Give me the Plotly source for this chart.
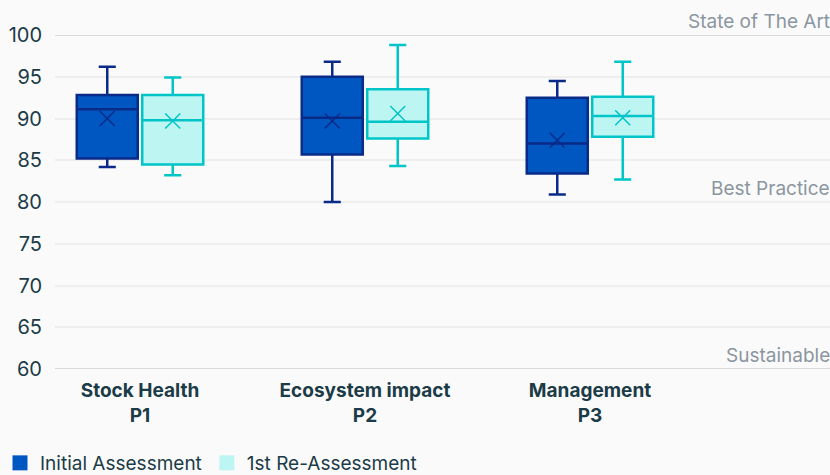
import plotly.graph_objects as go

categories = ["Stock Health<br>P1", "Ecosystem impact<br>P2", "Management<br>P3"]
series_names = ["Initial Assessment", "1st Re-Assessment"]

init_low = [84.2, 80.0, 80.9]
init_q1 = [85.2, 85.7, 83.4]
init_med = [91.1, 90.1, 87.0]
init_q3 = [92.8, 95.0, 92.5]
init_high = [96.2, 96.8, 94.5]
init_mean = [90.0, 89.7, 87.4]

re_low = [83.2, 84.3, 82.7]
re_q1 = [84.5, 87.6, 87.8]
re_med = [89.8, 89.6, 90.3]
re_q3 = [92.8, 93.5, 92.6]
re_high = [94.9, 98.8, 96.8]
re_mean = [89.7, 90.6, 90.1]

thresholds = [100, 80, 60]
threshold_labels = ["State of The Art", "Best Practice", "Sustainable"]
y_ticks = [60, 65, 70, 75, 80, 85, 90, 95, 100]

fills = ["#0057C2", "#BDF5F3"]
lines = ["#0A2A88", "#00C5C8"]
text_col = "#1B3B47"
label_col = "#8A96A0"
FONT = "Inter"

BOXGAP = 0.418
GROUPGAP = 0.068

pos = list(range(len(categories)))
series = [
    (init_low, init_q1, init_med, init_q3, init_high, init_mean),
    (re_low, re_q1, re_med, re_q3, re_high, re_mean),
]

fig = go.Figure()
n = len(series)
for i, (lo, q1, med, q3, hi, mn) in enumerate(series):
    fig.add_trace(go.Box(
        x=pos, lowerfence=lo, q1=q1, median=med, q3=q3, upperfence=hi,
        name=series_names[i], fillcolor=fills[i],
        line=dict(color=lines[i], width=2.5), whiskerwidth=0.28,
        showlegend=False, hoverinfo="skip", boxpoints=False,
    ))
    off = 2 * 0.5 * (-0.5 + (i + 0.5) / n) * (1 - BOXGAP)
    fig.add_trace(go.Scatter(
        x=[p + off for p in pos], y=mn, mode="markers",
        marker=dict(symbol="x-thin", size=15, line=dict(color=lines[i], width=1.5)),
        showlegend=False, hoverinfo="skip",
    ))

for i in range(n):
    fig.add_trace(go.Scatter(
        x=[None], y=[None], mode="markers", name=series_names[i],
        marker=dict(symbol="square", size=15, color=fills[i]),
    ))

for t, lab in zip(thresholds, threshold_labels):
    fig.add_shape(type="line", xref="paper", x0=0, x1=1, yref="y", y0=t, y1=t,
                  line=dict(color="#DADADA", width=2), layer="below")
    fig.add_annotation(xref="paper", x=1, yref="y", y=t, text=lab, showarrow=False,
                       xanchor="right", yanchor="bottom", yshift=0, xshift=2,
                       font=dict(family=FONT, size=19, color=label_col))

fig.update_layout(
    width=830, height=475,
    margin=dict(l=55, r=0, t=35, b=106),
    paper_bgcolor="#FAFAFA", plot_bgcolor="#FAFAFA",
    boxmode="group", boxgap=BOXGAP, boxgroupgap=GROUPGAP,
    font=dict(family=FONT, color=text_col),
    legend=dict(orientation="h", xref="container", yref="container",
                x=-0.008, xanchor="left", y=1 - 463 / 475, yanchor="middle",
                font=dict(family=FONT, size=19, color=text_col),
                itemwidth=30, tracegroupgap=0, bgcolor="rgba(0,0,0,0)"),
    xaxis=dict(
        range=[-85 / 225, 690 / 225], tickvals=pos, automargin=False,
        ticktext=["<b>" + c + "</b>" for c in categories],
        tickfont=dict(family=FONT, size=19, color=text_col), ticklabelstandoff=8,
        showgrid=False, zeroline=False, showline=False, ticks="",
    ),
    yaxis=dict(
        range=[60, 100], tickvals=y_ticks, showgrid=True, gridcolor="#EEEEEE", gridwidth=1.5,
        zeroline=False, showline=False, ticks="", ticklabelstandoff=12, automargin=False,
        tickfont=dict(family=FONT, size=20, color=text_col),
    ),
)

fig.write_html("out.html", config={"displayModeBar": False},
               post_script="document.body.style.margin='0';document.body.style.overflow='hidden';")
